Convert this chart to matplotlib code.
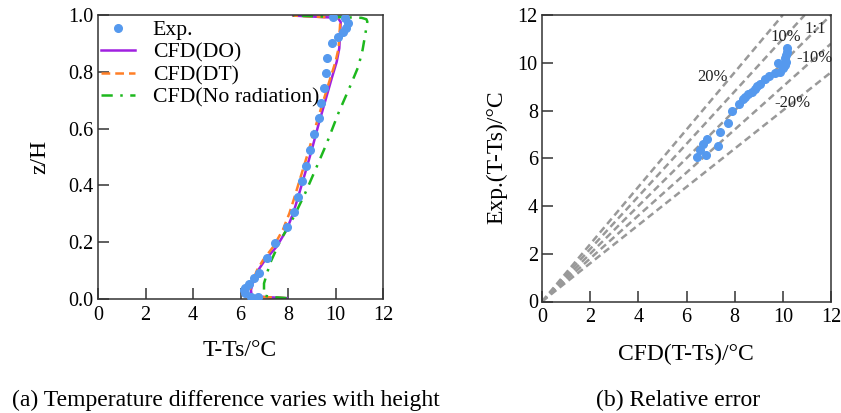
import numpy as np
import matplotlib.pyplot as plt

plt.rcParams['font.family'] = ['Liberation Serif', 'DejaVu Serif']
plt.rcParams['mathtext.fontset'] = 'stix'

# ── Data: (a) temperature profiles ──
t_exp = [9.91, 10.4, 10.54, 10.44, 10.33, 10.12, 9.84, 9.66, 9.59, 9.52, 9.39, 9.29,
         9.11, 8.93, 8.74, 8.61, 8.43, 8.25, 7.97, 7.45, 7.10, 6.79, 6.57, 6.36,
         6.18, 6.15, 6.2, 6.45, 6.75]
z_exp = [0.994, 0.988, 0.971, 0.953, 0.941, 0.924, 0.903, 0.85, 0.797, 0.744, 0.691, 0.636,
         0.58, 0.525, 0.469, 0.415, 0.36, 0.307, 0.252, 0.198, 0.143, 0.09, 0.073, 0.052,
         0.04, 0.03, 0.02, 0.008, 0.006]

t_do = [7.94, 7.0, 6.47, 6.44, 6.54, 6.75, 7.03, 7.52, 7.94, 8.22, 8.43, 8.72, 9.0,
        9.28, 9.56, 9.84, 10.05, 10.16, 10.19, 10.22, 10.1, 8.22]
z_do = [0.003, 0.007, 0.011, 0.032, 0.061, 0.102, 0.137, 0.184, 0.243, 0.302, 0.36, 0.443,
        0.525, 0.613, 0.695, 0.777, 0.835, 0.883, 0.935, 0.975, 0.99, 0.998]

t_dt = [7.9, 7.0, 6.42, 6.4, 6.5, 6.7, 6.95, 7.38, 7.78, 8.06, 8.28, 8.58, 8.88,
        9.18, 9.48, 9.78, 10.0, 10.13, 10.17, 10.2, 10.1, 8.2]
z_dt = [0.003, 0.007, 0.011, 0.032, 0.061, 0.102, 0.137, 0.184, 0.243, 0.302, 0.36, 0.443,
        0.525, 0.613, 0.695, 0.777, 0.835, 0.883, 0.935, 0.975, 0.99, 0.998]

t_nr = [7.94, 7.3, 6.99, 6.99, 6.99, 7.24, 7.69, 8.25, 8.72, 9.21, 9.63, 10.12, 10.61,
        10.96, 11.14, 11.26, 11.34, 11.3, 11.1, 8.22]
z_nr = [0.003, 0.007, 0.012, 0.02, 0.055, 0.125, 0.208, 0.29, 0.372, 0.466, 0.548, 0.654,
        0.748, 0.818, 0.877, 0.935, 0.977, 0.985, 0.99, 0.998]

# ── Data: (b) relative error ──
cfd_b = [10.17, 10.17, 10.15, 10.08, 10.12, 10.08, 10.01, 9.90, 9.80, 9.66, 9.43, 9.25,
         9.04, 8.93, 8.84, 8.70, 8.56, 8.42, 8.35, 8.17, 7.89, 7.73, 7.38, 7.31, 6.85,
         6.69, 6.58, 6.44, 6.80]
exp_b = [10.6, 10.46, 10.32, 10.18, 10.04, 9.90, 9.76, 9.62, 10.0, 9.55, 9.44, 9.32,
         9.13, 9.02, 8.92, 8.78, 8.69, 8.58, 8.47, 8.26, 7.99, 7.46, 7.12, 6.51, 6.82,
         6.60, 6.35, 6.07, 6.12]
ref_slopes = [1.2, 1.1, 1.0, 0.9, 0.8]
ref_labels = ['20%', '10%', '1:1', '-10%', '-20%']

C_EXP = '#5599ee'
C_DO = '#a020e0'
C_DT = '#ff7f27'
C_NR = '#1db81d'

W, H = 841, 413
fig = plt.figure(figsize=(W / 100, H / 100), dpi=100)


def style_axes(ax):
    for s in ax.spines.values():
        s.set_color('#333333')
        s.set_linewidth(1.1)
    ax.tick_params(direction='in', length=8, width=1.1, color='#333333',
                   labelsize=14.5, top=False, right=False)
    ax.tick_params(axis='x', pad=5)
    ax.tick_params(axis='y', pad=3)


# (a)
ax1 = fig.add_axes([98 / W, 1 - 299 / H, 285 / W, 284 / H])
ax1.plot(t_exp, z_exp, 'o', color=C_EXP, ms=5.5, label='Exp.', zorder=3)
ax1.plot(t_do, z_do, '-', color=C_DO, lw=1.8, label='CFD(DO)')
ax1.plot(t_dt, z_dt, '--', color=C_DT, lw=1.8, dashes=(3.5, 2), label='CFD(DT)')
ax1.plot(t_nr, z_nr, '-.', color=C_NR, lw=1.8, dashes=(4.5, 3, 1, 3), label='CFD(No radiation)')
ax1.set_xlim(0, 12)
ax1.set_ylim(0, 1)
ax1.set_xticks(range(0, 13, 2))
ax1.set_yticks(np.arange(0, 1.01, 0.2))
ax1.set_yticklabels([f'{v:.1f}' for v in np.arange(0, 1.01, 0.2)])
style_axes(ax1)
ax1.legend(loc='upper left', bbox_to_anchor=(0.01, 0.982), frameon=False, fontsize=15.7,
           handlelength=1.55, handletextpad=0.83, labelspacing=0.1, borderaxespad=0,
           borderpad=0, numpoints=1)

# (b)
ax2 = fig.add_axes([542 / W, 1 - 301.5 / H, 289 / W, 286.5 / H])
for k in ref_slopes:
    xe = min(12, 12 / k)
    ax2.plot([0, xe], [0, k * xe], color='#999999', lw=1.8, linestyle=(0, (2.8, 1.7)),
             zorder=1)
ax2.plot(cfd_b, exp_b, 'o', color=C_EXP, ms=5.5, zorder=3)
label_pos = [(7.1, 9.4), (10.13, 11.07), (11.34, 11.4), (11.3, 10.2), (10.38, 8.31)]
for txt, (lx, ly) in zip(ref_labels, label_pos):
    ax2.text(lx, ly, txt, fontsize=12, ha='center', va='center', color='#222222')
ax2.set_xlim(0, 12)
ax2.set_ylim(0, 12)
ax2.set_xticks(range(0, 13, 2))
ax2.set_yticks(range(0, 13, 2))
style_axes(ax2)

# axis labels and captions
fig.text(40 / W, 1 - 157 / H, 'z/H', rotation=90, ha='center', va='center', fontsize=17)
fig.text(240 / W, 1 - 350 / H, 'T-Ts/°C', ha='center', va='center', fontsize=17)
fig.text(497 / W, 1 - 157 / H, 'Exp.(T-Ts)/°C', rotation=90, ha='center', va='center', fontsize=17)
fig.text(686 / W, 1 - 354 / H, 'CFD(T-Ts)/°C', ha='center', va='center', fontsize=17)
fig.text(226 / W, 1 - 400 / H, '(a) Temperature difference varies with height',
         ha='center', va='center', fontsize=17)
fig.text(678 / W, 1 - 400 / H, '(b) Relative error', ha='center', va='center', fontsize=17)

fig.savefig('out.png', dpi=100)
